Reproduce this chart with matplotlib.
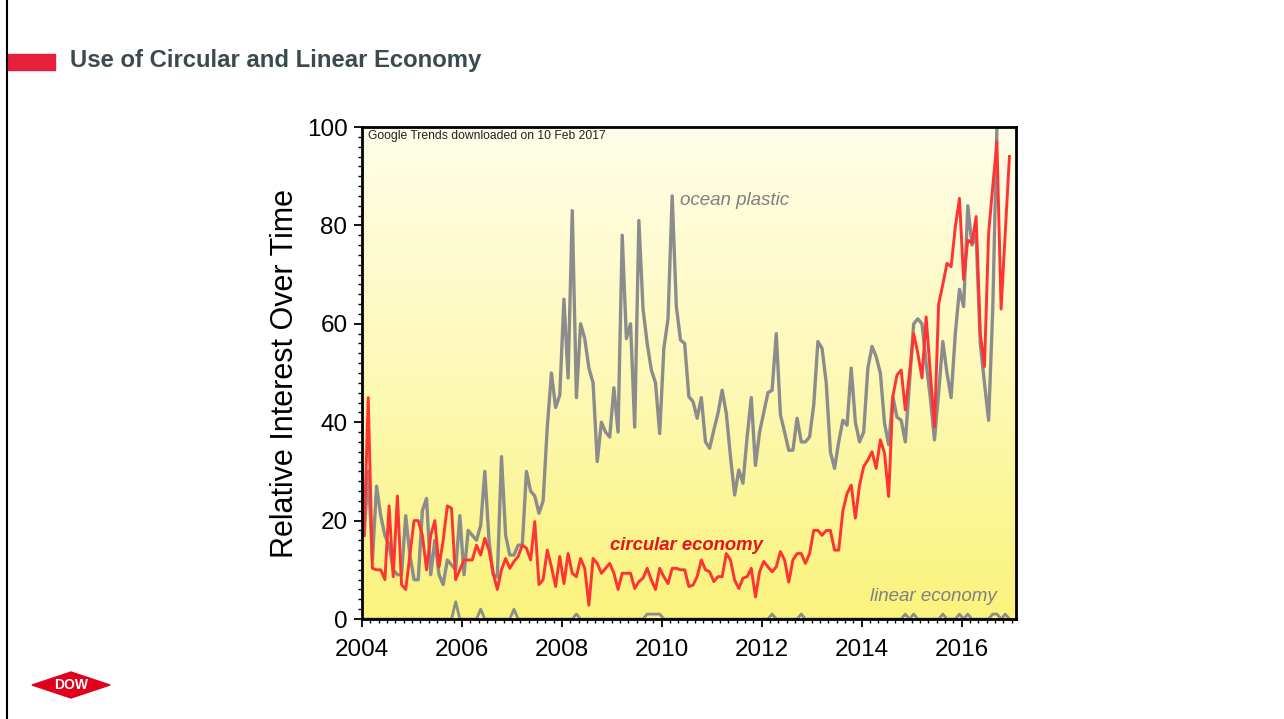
import numpy as np
import matplotlib
matplotlib.use("Agg")
import matplotlib.pyplot as plt
from matplotlib.colors import LinearSegmentedColormap
from matplotlib.patches import Rectangle, Polygon

plt.rcParams['font.family'] = ['Liberation Sans', 'DejaVu Sans']

# monthly Google Trends values, Jan 2004 .. Dec 2016
ocean_plastic = [
    17, 30, 12, 27, 21, 17, 15, 10, 9, 9, 21, 13,
    8, 8, 22, 24.5, 9, 16, 9, 7, 12, 11, 10, 21,
    9, 18, 17, 16, 19, 30, 16, 9, 8.5, 33, 17, 13,
    13, 15, 15, 30, 26, 25, 21.5, 24, 39, 50, 43, 45.5,
    65, 49, 83, 45, 60, 57, 51, 48, 32, 40, 38, 37,
    47, 38, 78, 57, 60, 39, 81, 63, 56, 50.6, 48, 37.7,
    55, 61, 86, 63.5, 56.7, 56, 45.2, 44.2, 40.8, 45, 36, 34.7,
    38.4, 41.8, 46.5, 41.8, 33, 25.2, 30.3, 27.6, 37, 45, 31.2, 38,
    42, 46, 46.5, 58, 41.5, 38, 34.3, 34.3, 40.8, 36, 36, 37,
    43.5, 56.4, 55, 48, 34, 30.6, 36, 40.4, 39.4, 51, 40, 36,
    38, 51, 55.4, 53.3, 50, 39.8, 35.4, 45.2, 41, 40.4, 36, 48,
    60, 61, 60, 52, 45, 36.4, 46, 56.4, 50, 45, 58, 67,
    63.5, 84, 76, 78, 56, 48, 40.4, 63, 100,
]
circular_economy = [
    17, 45, 10.3, 10, 10, 8, 23, 8.6, 25, 7, 6, 13,
    20, 20, 17, 10, 17, 20, 10.6, 16, 23, 22.5, 8, 10,
    12, 12, 12, 15, 13, 16.4, 14, 9.3, 6, 10, 12.3, 10.3,
    11.7, 12.7, 15, 14.4, 12, 19.8, 7, 8, 14, 10.6, 6.6, 12.7,
    7.2, 13.3, 9.3, 8.6, 12.3, 10.3, 2.8, 12.3, 11.3, 9.3, 10.3, 11.3,
    9.3, 6, 9.3, 9.3, 9.3, 6.2, 7.6, 8.3, 10.3, 7.9, 6, 10.3,
    8.6, 7.2, 10.3, 10.3, 10, 10, 6.6, 6.9, 8.6, 12, 10, 9.6,
    7.6, 8.6, 8.6, 13.3, 12, 7.9, 6.2, 8.3, 8.6, 10.3, 4.5, 9.6,
    11.7, 10.6, 9.6, 10.6, 13.7, 12, 7.5, 12, 13.3, 13.3, 11.3, 13.3,
    18, 18, 17, 18, 18, 14, 14, 22, 25.5, 27.2, 20.5, 27.2,
    31, 32.3, 34, 30.6, 36.4, 33.7, 24.9, 45.2, 49.6, 50.6, 42.5, 50,
    58, 54, 49, 61.4, 50, 39, 64, 68, 72.3, 71.6, 79.7, 85.5,
    69, 77, 76.4, 81.8, 58, 51.3, 78.4, 88, 97, 63, 78.5, 94,
]
linear_economy = [0] * 156
for idx, val in [(22, 3.5), (28, 2), (36, 2), (51, 1), (68, 1), (69, 1), (70, 1),
                 (71, 1), (98, 1), (105, 1), (130, 1), (132, 1), (139, 1),
                 (143, 1), (145, 1), (151, 1), (152, 1), (154, 1)]:
    linear_economy[idx] = val

def months(series):
    return 2004 + (np.arange(len(series)) + 0.5) / 12

fig = plt.figure(figsize=(12.84, 7.19), dpi=100)
fig.patch.set_facecolor('white')

ax = fig.add_axes([362 / 1284, 1 - 619 / 719, (1016 - 362) / 1284, (619 - 127) / 719])
x0, x1 = 2004, 2017.09

# yellow gradient background, pale at the top
cmap = LinearSegmentedColormap.from_list('bg', ['#fffeea', '#fdf9b8', '#faf37c'])
grad = np.linspace(0, 1, 256).reshape(-1, 1)
ax.imshow(grad, extent=[x0, x1, 0, 100], origin='upper', aspect='auto', cmap=cmap, zorder=0)
ax.set_xlim(x0, x1)
ax.set_ylim(0, 100)

ax.plot(months(ocean_plastic), ocean_plastic, color='#8c8c8c', lw=2.4, zorder=2)
ax.plot(months(linear_economy), linear_economy, color='#8c8c8c', lw=2.0, zorder=2)
ax.plot(months(circular_economy), circular_economy, color='#ff3333', lw=2.1, zorder=3)

ax.text(2004.13, 98.2, 'Google Trends downloaded on 10 Feb 2017', fontsize=8.7,
        color='#222222', va='center', ha='left')
ax.text(2010.36, 85, 'ocean plastic', fontsize=13.5, style='italic', color='#808080',
        va='center', ha='left')
ax.text(2008.97, 15, 'circular economy', fontsize=13.3, style='italic', weight='bold',
        color='#e8141c', va='center', ha='left')
ax.text(2014.17, 4.6, 'linear economy', fontsize=13.5, style='italic', color='#808080',
        va='center', ha='left')

ax.set_xticks([2004, 2006, 2008, 2010, 2012, 2014, 2016])
ax.set_xticks(np.arange(2004, 2017.1, 1 / 6), minor=True)
ax.set_yticks([0, 20, 40, 60, 80, 100])
ax.set_yticks(np.arange(0, 101, 2), minor=True)
ax.tick_params(which='major', direction='out', length=5.5, width=1.3, labelsize=17.5,
               colors='black')
ax.tick_params(axis='x', which='major', pad=9)
ax.tick_params(axis='y', which='major', pad=5)
ax.tick_params(which='minor', direction='out', length=3, width=1.0)
ax.tick_params(top=False, right=False, which='both')
for s in ax.spines.values():
    s.set_linewidth(2)
    s.set_color('black')
    s.set_zorder(5)
ax.set_ylabel('Relative Interest Over Time', fontsize=22, labelpad=5)

# slide decoration
fig.add_artist(Rectangle((8 / 1284, 1 - 70 / 719), 47 / 1284, 16 / 719,
                         transform=fig.transFigure, color='#e61f3a'))
fig.text(70 / 1284, 1 - 61 / 719, 'Use of Circular and Linear Economy', fontsize=17.2,
         weight='bold', color='#3b4a4f', va='center', ha='left')
fig.add_artist(plt.Line2D([6.5 / 1284, 6.5 / 1284], [0, 1], transform=fig.transFigure,
                          color='black', lw=1.5))

# Dow diamond
cx, cy, w, h = 71, 685, 78, 26
pts = [((cx - w / 2) / 1284, 1 - cy / 719), (cx / 1284, 1 - (cy - h / 2) / 719),
       ((cx + w / 2) / 1284, 1 - cy / 719), (cx / 1284, 1 - (cy + h / 2) / 719)]
fig.add_artist(Polygon(pts, closed=True, transform=fig.transFigure, color='#e0001b'))
fig.text(cx / 1284, 1 - cy / 719, 'DOW', fontsize=10, weight='bold', color='white',
         ha='center', va='center')

fig.savefig('out.png', dpi=100)
